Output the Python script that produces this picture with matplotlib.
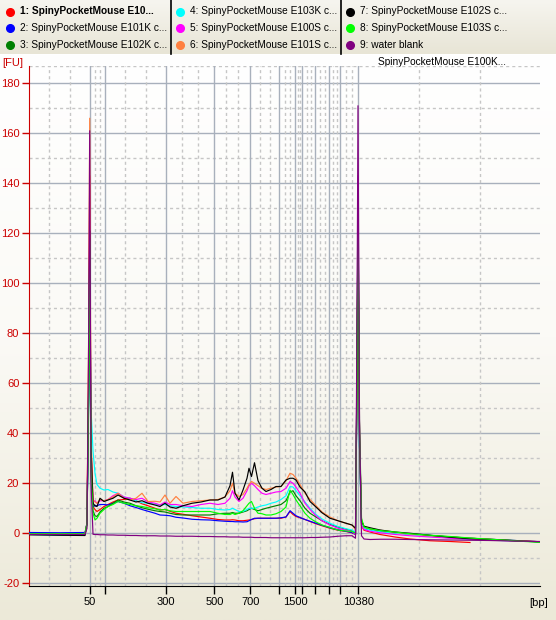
import numpy as np
import matplotlib
matplotlib.use("Agg")
import matplotlib.pyplot as plt
from matplotlib.colors import LinearSegmentedColormap

plt.rcParams['font.family'] = ['Liberation Sans', 'DejaVu Sans']
plt.rcParams['axes.unicode_minus'] = False

# ladder peaks (bp) and their migration times (s)
ladder_bp = [50, 100, 300, 500, 700, 1000, 1500, 2000, 3000, 5000, 7000, 10380]
ladder_t = [28.97, 30.53, 36.57, 41.43, 45.03, 47.93, 49.53, 50.23, 51.53, 52.93, 54.03, 55.83]
labeled_bp = [50, 300, 500, 700, 1500, 10380]
extra_grid_t = [24.9, 26.95, 61.93, 68.03]

nan = np.nan
time_s = [22.9, 26.0, 28.5, 28.7, 28.87, 28.97, 29.1, 29.3, 29.5, 29.7,
          30.0, 30.4, 30.8, 31.3, 31.8, 32.4, 33.0, 33.6, 34.2, 34.8,
          35.5, 36.0, 36.5, 37.0, 37.6, 38.3, 39.2, 40.1, 41.0, 41.8,
          42.5, 43.0, 43.25, 43.5, 43.9, 44.3, 44.7, 44.9, 45.15, 45.45,
          45.8, 46.2, 46.6, 47.1, 47.6, 48.1, 48.6, 49.0, 49.3, 49.6,
          50.0, 50.5, 51.0, 51.6, 52.2, 53.0, 53.8, 54.6, 55.2, 55.55,
          55.7, 55.8, 55.95, 56.15, 56.4, 57.0, 58.0, 59.5, 61.0, 63.0,
          65.0, 67.0, 69.0, 71.0, 72.5, 74.0]

fu_1 = [-0.5, -0.6, -0.6, 4, 72, 143, 35, 10.7, 9.5, 8.7,
        9.5, 10.7, 11.5, 12.5, 13.3, 13.5, 14, 13, 11.8, 11,
        10, 9.3, 9.5, 8.8, 8, 7.6, 7, 6.5, 6, 5.5,
        5.3, 5.3, 5.4, 5.3, 5, 5, 5.2, 5.3, 5.5, 5.8,
        6, 6, 6, 6, 6, 6, 6.5, 8.7, 7.5, 6.7,
        6.2, 5.5, 4.7, 3.8, 3, 2, 1.2, 0.7, 0.2, -0.5,
        60, 121, 40, 3, 1.2, 0.5, -0.5, -1.5, -2.3, -3,
        -3.3, -3.7, nan, nan, nan, nan]
fu_2 = [0.3, 0.2, 0.3, 4, 56, 112, 30, 10.7, 11, 11,
        11.5, 11.5, 11.3, 12, 12.7, 12, 11, 10.3, 9.5, 8.8,
        8, 7.3, 7.2, 7, 6.4, 6.1, 5.6, 5.4, 5.3, 5,
        4.8, 4.7, 4.7, 4.6, 4.6, 4.5, 4.6, 5, 5.5, 6,
        6, 6, 6, 6, 6, 6.2, 6.5, 9, 8, 7,
        6.3, 5.5, 4.8, 4, 3.2, 2.2, 1.4, 0.8, 0.3, -0.5,
        58, 115, 35, 4, 2, 1.5, 0.8, 0.2, -0.3, -0.9,
        -1.5, -2, -2.4, -2.8, -3.1, -3.4]
fu_3 = [-0.3, -0.3, -0.3, 4, 52, 105, 25, 9, 7, 6.7,
        8.5, 10, 10.7, 12, 13.3, 12.5, 12, 11, 10.2, 9.6,
        9, 8.7, 8.5, 8, 7.5, 7.3, 7.3, 7.3, 7.3, 7.8,
        8, 8, 8.3, 8, 8, 8.5, 9, 9.5, 10, 9.5,
        9, 9.5, 10, 10.5, 11, 11.5, 13, 16.5, 17, 15,
        13, 10, 8, 6.5, 5, 3.5, 2.5, 1.6, 1.0, 0,
        59, 118, 35, 4, 2, 1.5, 0.9, 0.2, -0.3, -0.9,
        -1.4, -2, -2.4, -2.8, -3.1, -3.4]
fu_4 = [-0.5, -0.8, -0.5, 4, 55, 110, 50, 33, 24, 19.5,
        18, 17.3, 17.5, 16.5, 16, 14.5, 14, 13, 12.2, 12,
        11.7, 11.3, 11.5, 11, 10.7, 10.5, 10.3, 10, 10, 9.5,
        9.3, 9.5, 10, 9.5, 8.7, 8.7, 9.5, 10, 10, 10,
        10.5, 11, 11.3, 12, 12.5, 13.5, 15, 18.7, 18.5, 17,
        15, 12.5, 10, 7.5, 5.7, 4, 2.7, 1.8, 1.3, 0.3,
        58, 117, 35, 4, 2, 1.3, 0.6, 0, -0.5, -1.3,
        -1.8, -2.5, -2.8, -3, -3.2, nan]
fu_5 = [-0.3, -0.3, -0.3, 4, 62, 125, 35, 12.7, 13, 12,
        13, 13, 13.5, 15, 16, 14.5, 14, 13.5, 14, 12.5,
        12, 11.3, 12.5, 11.5, 11.5, 11, 10.7, 11.5, 12, 11.5,
        12, 14, 17, 14.5, 12.7, 14, 17, 19, 20, 19,
        17.5, 16, 15.5, 16, 16.5, 16.7, 18, 20.7, 20, 18.5,
        16, 12, 9.5, 7, 5, 3.3, 2, 1.2, 0.7, -0.5,
        72, 143, 45, 3, 1.5, 0.8, 0.2, -0.5, -1, -1.5,
        -2, -2.4, -2.7, -3, -3.2, -3.4]
fu_6 = [-0.4, -0.4, -0.4, 4, 83, 166, 40, 13.3, 12.5, 12,
        13.5, 13, 13.5, 14.5, 16, 14, 13.3, 14, 16, 12.7,
        12.8, 12.5, 15.3, 12, 14.7, 12, 12.7, 13, 13.3, 13.5,
        14.5, 17, 20, 16, 14.7, 15.5, 18, 19.5, 20.7, 20,
        19, 18, 17.5, 18, 18.5, 18.7, 21, 24, 23.5, 22,
        19.5, 16, 13.5, 11, 8.5, 6.5, 5, 4, 3.3, 1.5,
        60, 120, 38, 5, 2.5, 1.8, 1.2, 0.3, -0.3, -1,
        -1.5, -2, -2.4, -2.9, -3.1, -3.4]
fu_7 = [-0.6, -0.8, -0.9, 4, 60, 121, 35, 12, 11, 10.7,
        14, 12.7, 13.3, 14, 15.3, 14, 13.3, 12.5, 13, 12,
        11.3, 10.7, 12, 10.5, 10, 11, 12, 12.5, 13.3, 13.3,
        14.5, 19, 24.4, 16, 13.3, 17.3, 22, 26, 22.7, 28.2,
        21, 18, 16.7, 17.5, 18.7, 18.7, 21.3, 22, 22, 21.3,
        18.5, 16.5, 12.7, 10.5, 8.2, 6, 5, 4, 3.3, 2,
        66, 133, 40, 5, 2.8, 2.2, 1.3, 0.5, 0, -0.8,
        -1.6, -2.2, -2.5, -2.9, -3.2, -3.5]
fu_8 = [-0.2, -0.2, -0.2, 4, 58, 117, 25, 8, 5.3, 6,
        8, 9.5, 10.7, 11.5, 12.7, 12, 11.5, 11, 10.7, 10.2,
        9.8, 9.3, 9.5, 9, 8.7, 8.7, 8.7, 8.7, 8.7, 8,
        7.5, 7.5, 8, 7.5, 8, 9, 11, 12, 12.7, 10,
        8, 7.8, 7.3, 7.3, 7.8, 8.7, 10.5, 17.3, 15.5, 13.3,
        11, 8, 6, 4.5, 3.3, 2.3, 1.3, 0.9, 0.7, 0,
        65, 129, 45, 6, 2.5, 1.8, 1.1, 0.5, -0.2, -0.8,
        -1.3, -1.9, -2.4, -2.9, -3.3, -3.6]
fu_9 = [-0.5, -0.5, -0.5, 2, 80, 161, 20, -0.4, -0.5, -0.5,
        -0.6, -0.6, -0.7, -0.7, -0.8, -0.8, -0.9, -0.9, -1.0, -1.0,
        -1.0, -1.1, -1.1, -1.1, -1.2, -1.2, -1.2, -1.3, -1.3, -1.4,
        -1.4, -1.5, -1.5, -1.5, -1.5, -1.6, -1.6, -1.6, -1.6, -1.7,
        -1.7, -1.7, -1.7, -1.8, -1.8, -1.8, -1.8, -1.8, -1.8, -1.8,
        -1.8, -1.8, -1.7, -1.7, -1.6, -1.5, -1.2, -1.0, -1.0, -2.0,
        85, 171, 45, -1, -2.3, -2.5, -2.4, -2.4, -2.5, -2.6,
        -2.7, -2.8, -2.9, -3.1, -3.2, -3.3]

sample_labels = ["1: SpinyPocketMouse E10...",
                 "2: SpinyPocketMouse E101K c...",
                 "3: SpinyPocketMouse E102K c...",
                 "4: SpinyPocketMouse E103K c...",
                 "5: SpinyPocketMouse E100S c...",
                 "6: SpinyPocketMouse E101S c...",
                 "7: SpinyPocketMouse E102S c...",
                 "8: SpinyPocketMouse E103S c...",
                 "9: water blank"]
sample_fu = [fu_1, fu_2, fu_3, fu_4, fu_5, fu_6, fu_7, fu_8, fu_9]
colors = ['#ff0000', '#0000ff', '#008000', '#00ffff', '#ff00ff',
          '#ff8040', '#000000', '#00ff00', '#800080']

W, H = 556, 620
fig = plt.figure(figsize=(W / 100, H / 100), dpi=100)

# background gradients (pixel coords)
bg = fig.add_axes([0, 0, 1, 1], zorder=-5)
bg.set_xlim(0, W)
bg.set_ylim(H, 0)
bg.axis('off')
grad_main = LinearSegmentedColormap.from_list('m', ['#ffffff', '#fbfaf6', '#ece9d8'])
bg.imshow(np.linspace(0, 1, 256).reshape(-1, 1), cmap=grad_main, aspect='auto',
          extent=[0, W, H, 54])
grad_leg = LinearSegmentedColormap.from_list('l', ['#f6f5ef', '#e8e5d6'])
bg.imshow(np.linspace(0, 1, 64).reshape(-1, 1), cmap=grad_leg, aspect='auto',
          extent=[0, W, 54, 0])
for xs in [170.5, 340.5]:
    bg.plot([xs, xs], [0, 54], color='black', lw=1.2)

# legend entries
col_x = [10, 180, 350]
row_y = [11.5, 28, 44.5]
for i, lab in enumerate(sample_labels):
    cx, ry = col_x[i // 3], row_y[i % 3]
    bg.plot(cx, ry, 'o', color=colors[i], ms=5.5, mec=colors[i])
    bg.text(cx + 10, ry, lab, fontsize=7.3, va='center', ha='left',
            fontweight='bold' if i == 0 else 'normal')

bg.text(2, 63, "[FU]", color='#cc0000', fontsize=8, va='center', ha='left')
bg.text(506, 62, "SpinyPocketMouse E100K...", fontsize=7.3, va='center', ha='right')
bg.text(529, 603, "[bp]", fontsize=8, va='center', ha='left')

# main plot
left, right, top, bottom = 29, 540, 65.5, 585.5
ax = fig.add_axes([left / W, 1 - bottom / H, (right - left) / W, (bottom - top) / H])
ax.set_facecolor('none')
ax.set_xlim(22.9, 74.0)
ax.set_ylim(-20.9, 187.1)

grid_solid = '#a8b0bc'
grid_dash = '#c6c6c6'
for v in range(-20, 181, 20):
    ax.axhline(v, color=grid_solid, lw=1, zorder=1)
for v in range(-10, 171, 20):
    ax.axhline(v, color=grid_dash, lw=1, ls=(0, (2.2, 2.2)), zorder=1)
ax.axhline(187.1, color=grid_dash, lw=1, ls=(0, (2.2, 2.2)), zorder=1)

minor_t = list(extra_grid_t)
for a, b in zip(ladder_t[:-1], ladder_t[1:]):
    minor_t += [a + (b - a) / 3, a + 2 * (b - a) / 3]
for t in minor_t:
    ax.axvline(t, color=grid_dash, lw=1, ls=(0, (2.2, 2.2)), zorder=1)
for t in ladder_t:
    ax.axvline(t, color=grid_solid, lw=1, zorder=1)

for fu, c in zip(sample_fu, colors):
    ax.plot(time_s, fu, color=c, lw=0.85, zorder=3)

ax.set_yticks(range(-20, 181, 20))
ax.tick_params(axis='y', colors='#cc0000', length=5, width=1, labelsize=8, pad=2)
ax.set_xticks(ladder_t)
ax.set_xticklabels([str(b) if b in labeled_bp else '' for b in ladder_bp])
ax.tick_params(axis='x', colors='black', length=5.5, width=1, labelsize=8, pad=3)

ax.spines['left'].set_color('#cc0000')
ax.spines['bottom'].set_color('black')
ax.spines['top'].set_visible(False)
ax.spines['right'].set_visible(False)

plt.savefig('out.png', dpi=100)
